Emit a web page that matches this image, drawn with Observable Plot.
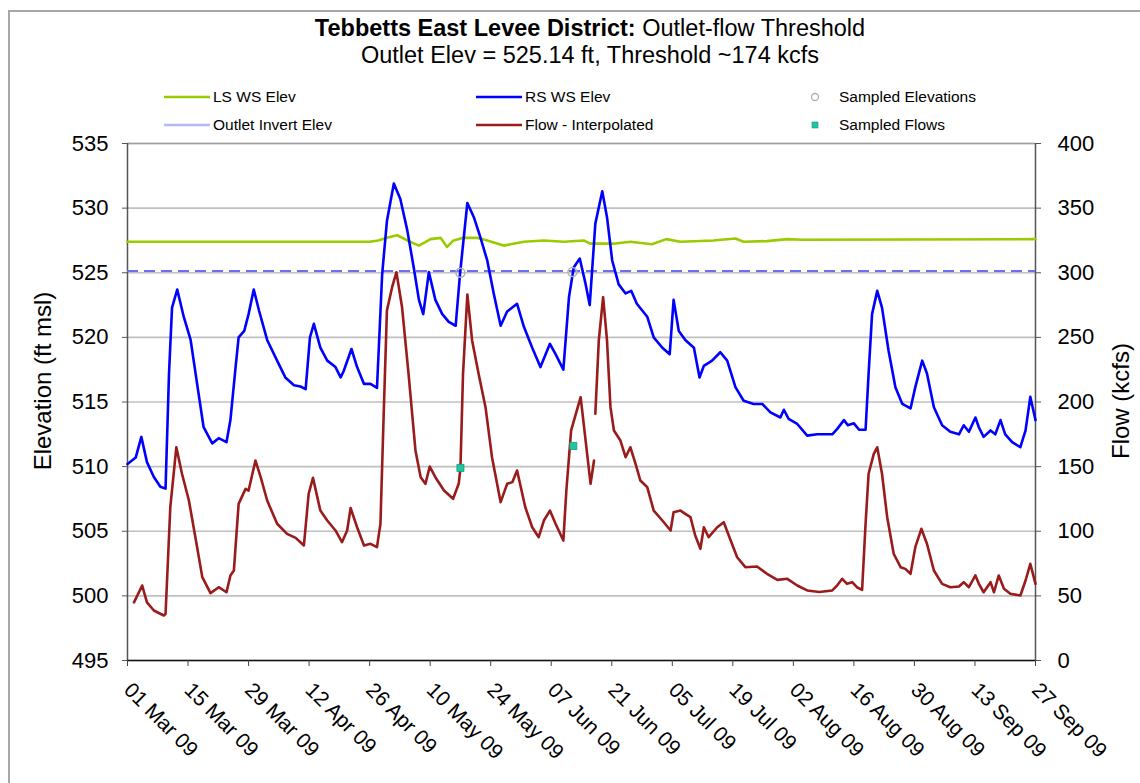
<!DOCTYPE html>
<html>
<head>
<meta charset="utf-8">
<script src="https://cdn.jsdelivr.net/npm/d3@7"></script>
<script src="https://cdn.jsdelivr.net/npm/@observablehq/plot@0.6"></script>
<style>
  html, body { margin: 0; padding: 0; background: #fff; }
  #wrap { position: relative; width: 1140px; height: 783px; overflow: hidden;
          font-family: "Liberation Sans", Arial, sans-serif; color: #000; }
  #border { position: absolute; left: 8px; top: 10px; width: 1200px; height: 900px;
            border-left: 2px solid #a8a8a8; border-top: 2px solid #a8a8a8; }
  .title { position: absolute; left: 0; width: 1180px; text-align: center; font-size: 23.5px; white-space: nowrap; }
  .leg { position: absolute; font-size: 15.5px; white-space: nowrap; display: flex; align-items: center; }
  .leg svg { margin-right: 3px; }
  #chart { position: absolute; left: 0; top: 133px; }
</style>
</head>
<body>
<div id="wrap">
  <div id="border"></div>
  <div class="title" style="top:15px"><b>Tebbetts East Levee District:</b> Outlet-flow Threshold</div>
  <div class="title" style="top:42px">Outlet Elev = 525.14 ft, Threshold ~174 kcfs</div>
  <div id="legend"></div>
  <div id="chart"></div>
</div>
<script>
// ---------------- data ----------------
// days counted from 01 Mar 2009
const rsDay = [0,1.9,3.2,4.5,6.1,7.6,8.8,9.6,10.3,11.5,13,14.6,16.1,17.6,19.6,21.1,22.9,23.8,25,25.7,27,28,29.2,30.4,32.3,34.6,36.5,38.5,40,41.2,42.2,43.1,44.6,46.2,48.1,49.3,50,51.8,53.1,54.7,56.2,57.7,58.9,60,61.6,63.1,64.7,66.2,67.4,68.4,69.7,71.2,72.8,74.3,75.9,76.9,78.6,80.1,81.6,83.2,84.7,86.3,87.8,90.1,91.7,93.6,95.5,97.7,99,100.8,102.1,103.2,104.6,105.9,106.9,108.2,109.8,110.9,112.1,113.6,115.2,116.5,117.8,120.2,121.7,123.7,125.4,126.3,127.5,129,131,132.3,133.3,135.2,137.1,138.7,140.6,142.5,144.8,146.8,148.7,151,151.8,152.9,154.9,157.2,159.5,163,164.1,165.7,166.6,168,169.2,170.7,171.4,172.2,173.4,174.5,176,177.6,179.2,181.1,182.2,183.8,184.9,186.5,188.4,190.3,192.3,193.4,194.6,196.1,196.9,198,199.6,200.7,201.9,203,204.6,206.5,207.7,208.8,210];
const rsElev = [510.2,510.7,512.3,510.35,509.2,508.45,508.3,517.2,522.3,523.7,521.6,519.8,516.4,513.05,511.8,512.2,511.9,513.6,517.7,520.0,520.5,521.8,523.7,522.1,519.8,518.2,516.9,516.3,516.2,516.0,520.0,521.05,519.2,518.2,517.7,516.9,517.4,519.1,517.7,516.4,516.4,516.1,524.9,529.0,531.9,530.7,528.3,525.4,522.9,521.8,525.05,522.9,521.8,521.2,520.9,524.9,530.4,529.3,527.75,525.95,523.4,520.9,522.0,522.6,520.8,519.2,517.7,519.5,518.7,517.5,523.1,525.4,526.1,524.2,522.5,528.8,531.3,529.3,525.95,524.1,523.4,523.6,522.6,521.6,520.0,519.2,518.7,522.9,520.5,519.8,519.2,516.9,517.8,518.2,518.85,518.2,516.15,515.1,514.85,514.85,514.2,513.8,514.4,513.7,513.3,512.4,512.5,512.5,512.9,513.6,513.2,513.35,512.85,512.85,517.2,521.8,523.6,522.3,519.0,516.15,514.85,514.5,516.15,518.2,517.2,514.6,513.2,512.7,512.5,513.2,512.7,513.8,513.05,512.3,512.8,512.5,513.6,512.5,511.9,511.5,512.8,515.4,513.6];

const lsDay = [0,56,58,60,62.4,64.7,67.4,70.1,72.4,73.9,75.4,77.7,80.8,83.2,87,91.7,96.3,100.9,105.5,107,112.4,116.3,121.3,124.6,127.9,135.5,140.6,142.5,147.9,152.6,156,210];
const lsElev = [527.4,527.4,527.5,527.7,527.9,527.5,527.1,527.6,527.7,527.0,527.5,527.7,527.7,527.5,527.1,527.4,527.5,527.4,527.5,527.25,527.25,527.4,527.2,527.6,527.4,527.5,527.65,527.4,527.45,527.6,527.55,527.6];

// flow in kcfs (null = missing record)
const flowDay = [1.5,3.4,4.5,6.1,8.4,8.8,9.9,11.3,12.6,14.2,15.7,17.3,19.2,21.1,22.9,23.8,24.6,25.7,27.3,28,29.6,30.8,32.3,34.6,36.9,38.9,40.8,41.9,42.9,44.6,46.2,48.1,49.6,50.8,51.6,53.1,54.7,56.2,57.7,58.5,59.3,60,61.2,62.2,63.5,65,66.6,67.8,68.9,69.9,71.2,73.2,75.3,76.6,77,77.6,78.6,79.7,81.2,82.8,84.3,86.3,87.8,89,90.1,92,93.6,95.1,96.3,97.7,99,100.8,101.5,102.6,103.2,104.8,107.1,107.9,108.0,108.2,109,110,110.9,111.7,112.5,114,115.2,116.3,117.5,118.6,120.2,121.7,123.7,125.6,126.3,127.9,129,130.2,131.3,132.5,133.3,134.4,136.4,137.9,139.5,141,142.9,145.6,147.9,150.3,152.6,154.9,157.2,160,163,164.1,165.3,166.4,167.6,168.7,169.9,170.7,171.4,172.6,173.4,174.5,175.7,177.2,178.8,179.9,181.1,182.2,183.6,184.9,186.5,188.4,190.3,192.3,193.4,194.6,196.1,196.9,198,199.6,200.4,201.5,202.7,204.2,206.5,207.7,208.8,209.6,210];
const flowKcfs = [45,58,45,38.7,34.8,36,118.6,165,144.5,123.8,95.4,64.5,52.1,56.7,52.8,65.8,69.6,121.2,132.8,131.5,154.7,141.8,123.8,105.8,98,94.9,89,129,141.3,116,108.3,100.6,91.5,100.6,118,103.1,89,90.3,87.7,105.8,196,270.8,288.8,300.4,273.3,221.8,162.5,141.8,136.7,150.1,141.8,131.5,125.1,136.7,148.8,221.8,283.2,247.6,221.8,196,157.3,122.5,136.7,138,147,118.6,103.1,95.4,108.3,116,105.8,92.8,131.5,178,185,203.7,136.7,154.7,null,190.9,247.6,281.1,247.6,196,178,170.2,157.3,165,152.2,139.3,134.1,116,108.3,100.6,114.7,116,113.5,110.9,96.7,86.4,103.1,95.4,103.1,107,92.8,79.9,72.2,72.7,67.1,62.4,63.2,58,54.2,53,54.2,58,63.2,59.3,60.6,56.7,54.7,105.8,144.5,159.9,165,144.5,110.9,82.6,72.2,70.9,67.1,87.7,101.9,90.3,69.6,59.3,56.7,57.3,60.6,56.7,65.8,59.3,52.8,60.6,52.8,65.8,55.5,51.6,50.3,61.9,74.8,64.5,59.3];

const sampledElevDay = [77, 102.9];
const sampledElev = [525.0, 525.05];
const sampledFlowDay = [77, 103.1];
const sampledFlow = [149, 166];

const outletElev = 525.14;

const elevTicks = [495, 500, 505, 510, 515, 520, 525, 530, 535];
const flowTickLabels = ["0", "50", "100", "150", "200", "250", "300", "350", "400"];
const xTickDays = [0, 14, 28, 42, 56, 70, 84, 98, 112, 126, 140, 154, 168, 182, 196, 210];
const xTickLabels = ["01 Mar 09","15 Mar 09","29 Mar 09","12 Apr 09","26 Apr 09","10 May 09","24 May 09","07 Jun 09","21 Jun 09","05 Jul 09","19 Jul 09","02 Aug 09","16 Aug 09","30 Aug 09","13 Sep 09","27 Sep 09"];

const seriesNames = ["LS WS Elev", "RS WS Elev", "Sampled Elevations", "Outlet Invert Elev", "Flow - Interpolated", "Sampled Flows"];
const colors = { ls: "#99cc00", rs: "#0000ff", flow: "#9a1b1b", outlet: "#6e6ef0", sElev: "#b0b0b0", sFlow: "#22c4a2" };

// ---------------- build ----------------
const t0 = Date.UTC(2009, 2, 1);
const toDate = d => new Date(t0 + d * 864e5);

const rs = rsDay.map((d, i) => ({ date: toDate(d), elev: rsElev[i] }));
const ls = lsDay.map((d, i) => ({ date: toDate(d), elev: lsElev[i] }));
const flow = flowDay.map((d, i) => ({ date: toDate(d), flow: flowKcfs[i] }));
const sElev = sampledElevDay.map((d, i) => ({ date: toDate(d), elev: sampledElev[i] }));
const sFlow = sampledFlowDay.map((d, i) => ({ date: toDate(d), flow: sampledFlow[i] }));
const flowToElev = f => (f == null ? NaN : 495 + f / 10);

const xTickDates = xTickDays.map(toDate);
const xLabelMap = new Map(xTickDates.map((d, i) => [+d, xTickLabels[i]]));
const yLabelMap = new Map(elevTicks.map((e, i) => [e, flowTickLabels[i]]));

const font = "'Liberation Sans', Arial, sans-serif";

const chart = Plot.plot({
  width: 1140,
  height: 650,
  marginLeft: 127,
  marginRight: 105,
  marginTop: 10,
  marginBottom: 123,
  x: { type: "utc", domain: [toDate(0), toDate(210)] },
  y: { domain: [495, 535] },
  style: { fontFamily: font, fontSize: "22px", color: "#000", background: "transparent", overflow: "visible" },
  marks: [
    Plot.gridY(elevTicks, { stroke: "#c0c0c0", strokeOpacity: 1, strokeWidth: 1.6 }),
    Plot.ruleY([535], { stroke: "#a0a0a0", strokeWidth: 1.5 }),
    Plot.ruleX([toDate(0)], { stroke: "#555", strokeWidth: 1.5 }),
    Plot.ruleX([toDate(210)], { stroke: "#555", strokeWidth: 1.5 }),
    Plot.ruleY([495], { stroke: "#111", strokeWidth: 1.5 }),
    Plot.axisY(elevTicks, { anchor: "left", tickSize: 5, tickPadding: 14, label: null, fontSize: 22, stroke: "#555" }),
    Plot.axisY(elevTicks, { anchor: "right", tickSize: 5, tickPadding: 17, label: null, fontSize: 22, stroke: "#555",
      tickFormat: d => yLabelMap.get(d) }),
    Plot.axisX(xTickDates, { anchor: "bottom", tickSize: 6, tickPadding: 20, tickRotate: 45, label: null, fontSize: 21,
      stroke: "#444", tickFormat: d => xLabelMap.get(+d) }),
    Plot.ruleY([outletElev], { stroke: colors.outlet, strokeWidth: 2, strokeDasharray: "11,6" }),
    Plot.line(ls, { x: "date", y: "elev", stroke: colors.ls, strokeWidth: 2.6 }),
    Plot.line(rs, { x: "date", y: "elev", stroke: colors.rs, strokeWidth: 2.6 }),
    Plot.line(flow, { x: "date", y: d => flowToElev(d.flow), stroke: colors.flow, strokeWidth: 2.6 }),
    Plot.dot(sElev, { x: "date", y: "elev", r: 4.5, stroke: colors.sElev, strokeWidth: 1.5, fill: "none" }),
    Plot.dot(sFlow, { x: "date", y: d => flowToElev(d.flow), symbol: "square", r: 4, fill: colors.sFlow, stroke: "#179a80", strokeWidth: 0.8 }),
    Plot.text(["Elevation (ft msl)"], { frameAnchor: "left", textAnchor: "middle", dx: -84, dy: -21, rotate: -90, fontSize: 24, fontFamily: font }),
    Plot.text(["Flow (kcfs)"], { frameAnchor: "right", textAnchor: "middle", dx: 86, dy: -1, rotate: -90, fontSize: 24, fontFamily: font })
  ]
});
document.getElementById("chart").appendChild(chart);

// ---------------- legend ----------------
const legendItems = [
  { name: seriesNames[0], x: 164, y: 97, kind: "line", color: colors.ls },
  { name: seriesNames[1], x: 476, y: 97, kind: "line", color: colors.rs },
  { name: seriesNames[2], x: 800, y: 97, kind: "circle", color: colors.sElev },
  { name: seriesNames[3], x: 164, y: 125, kind: "dash", color: "#b8b8f4" },
  { name: seriesNames[4], x: 476, y: 125, kind: "line", color: colors.flow },
  { name: seriesNames[5], x: 800, y: 125, kind: "square", color: colors.sFlow }
];
const leg = document.getElementById("legend");
for (const it of legendItems) {
  const div = document.createElement("div");
  div.className = "leg";
  div.style.left = it.x + "px";
  div.style.top = (it.y - 10) + "px";
  div.style.height = "20px";
  let sw;
  if (it.kind === "line" || it.kind === "dash") sw = `<svg width="46" height="12"><line x1="0" y1="6" x2="46" y2="6" stroke="${it.color}" stroke-width="2.6"/></svg>`;
  else if (it.kind === "circle") sw = `<svg width="36" height="12"><circle cx="15" cy="6" r="3.5" fill="none" stroke="${it.color}" stroke-width="1.3"/></svg>`;
  else sw = `<svg width="36" height="12"><rect x="12" y="3" width="6" height="6" fill="${it.color}" stroke="#179a80" stroke-width="0.6"/></svg>`;
  div.innerHTML = sw + `<span>${it.name}</span>`;
  leg.appendChild(div);
}
</script>
</body>
</html>
